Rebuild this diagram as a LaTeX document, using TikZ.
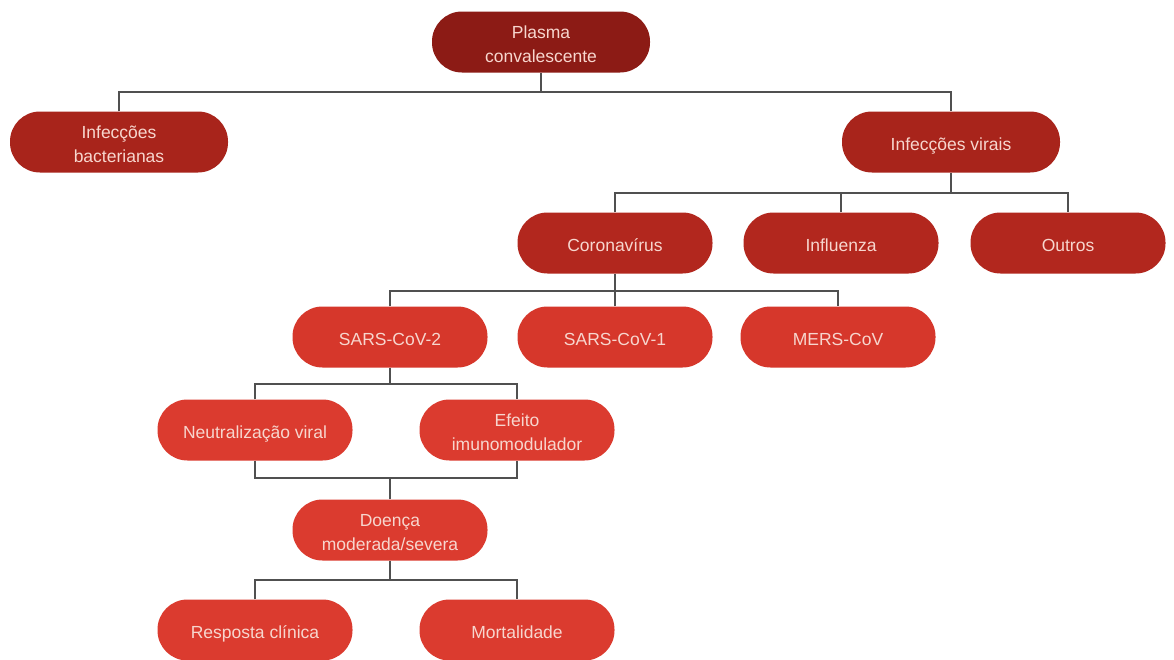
\documentclass[tikz,border=0pt]{standalone}
\usepackage{fontspec}
\setmainfont{Liberation Sans}
\newcommand\mystrut{\rule[-4pt]{0pt}{24pt}}
\begin{document}
\begin{tikzpicture}[x=1pt,y=-1pt,
  box/.style={rectangle, rounded corners=30pt, minimum width=#1, minimum height=61pt, inner sep=0pt,
    text=txtc, align=center, font=\fontsize{17.5}{24}\selectfont, draw=none},
  box/.default=218pt,
  conn/.style={draw=linec, line width=1.4pt}]
\definecolor{c0}{HTML}{8C1B15}
\definecolor{c1}{HTML}{A8241B}
\definecolor{c2}{HTML}{B2271E}
\definecolor{c3}{HTML}{D6372B}
\definecolor{c4}{HTML}{DB3B2F}
\definecolor{txtc}{HTML}{F7D6CE}
\definecolor{linec}{HTML}{505050}
\useasboundingbox[fill=white] (0,0) rectangle (1174,659);

\node[box, fill=c0] (plasma) at (541,42) {\mystrut Plasma\\\mystrut convalescente};
\node[box, fill=c1] (bact) at (119,142) {\mystrut Infecções\\\mystrut bacterianas};
\node[box, fill=c1] (virais) at (951,142) {\mystrut Infecções virais};
\node[box=195pt, fill=c2] (corona) at (615,243) {\mystrut Coronavírus};
\node[box=195pt, fill=c2] (influ) at (841,243) {\mystrut Influenza};
\node[box=195pt, fill=c2] (outros) at (1068,243) {\mystrut Outros};
\node[box=195pt, fill=c3] (sars2) at (390,337) {\mystrut SARS-CoV-2};
\node[box=195pt, fill=c3] (sars1) at (615,337) {\mystrut SARS-CoV-1};
\node[box=195pt, fill=c3] (mers) at (838,337) {\mystrut MERS-CoV};
\node[box=195pt, fill=c4] (neutr) at (255,430) {\mystrut Neutralização viral};
\node[box=195pt, fill=c4] (efeito) at (517,430) {\mystrut Efeito\\\mystrut imunomodulador};
\node[box=195pt, fill=c4] (doenca) at (390,530) {\mystrut Doença\\\mystrut moderada/severa};
\node[box=195pt, fill=c4] (resp) at (255,630) {\mystrut Resposta clínica};
\node[box=195pt, fill=c4] (mort) at (517,630) {\mystrut Mortalidade};

\coordinate (b1) at (0,92);
\coordinate (b2) at (0,193);
\coordinate (b3) at (0,291);
\coordinate (b4) at (0,384);
\coordinate (b5) at (0,478);
\coordinate (b6) at (0,580);

\draw[conn] (plasma.south) -- (plasma.south |- b1);
\draw[conn] (bact.north) |- (virais.north |- b1) -- (virais.north);

\draw[conn] (virais.south) -- (virais.south |- b2);
\draw[conn] (corona.north) |- (outros.north |- b2) -- (outros.north);
\draw[conn] (influ.north) -- (influ.north |- b2);

\draw[conn] (corona.south) -- (corona.south |- b3);
\draw[conn] (sars2.north) |- (mers.north |- b3) -- (mers.north);
\draw[conn] (sars1.north) -- (sars1.north |- b3);

\draw[conn] (sars2.south) -- (sars2.south |- b4);
\draw[conn] (neutr.north) |- (efeito.north |- b4) -- (efeito.north);

\draw[conn] (neutr.south) |- (efeito.south |- b5) -- (efeito.south);
\draw[conn] (doenca.north) -- (doenca.north |- b5);

\draw[conn] (doenca.south) -- (doenca.south |- b6);
\draw[conn] (resp.north) |- (mort.north |- b6) -- (mort.north);
\end{tikzpicture}
\end{document}
